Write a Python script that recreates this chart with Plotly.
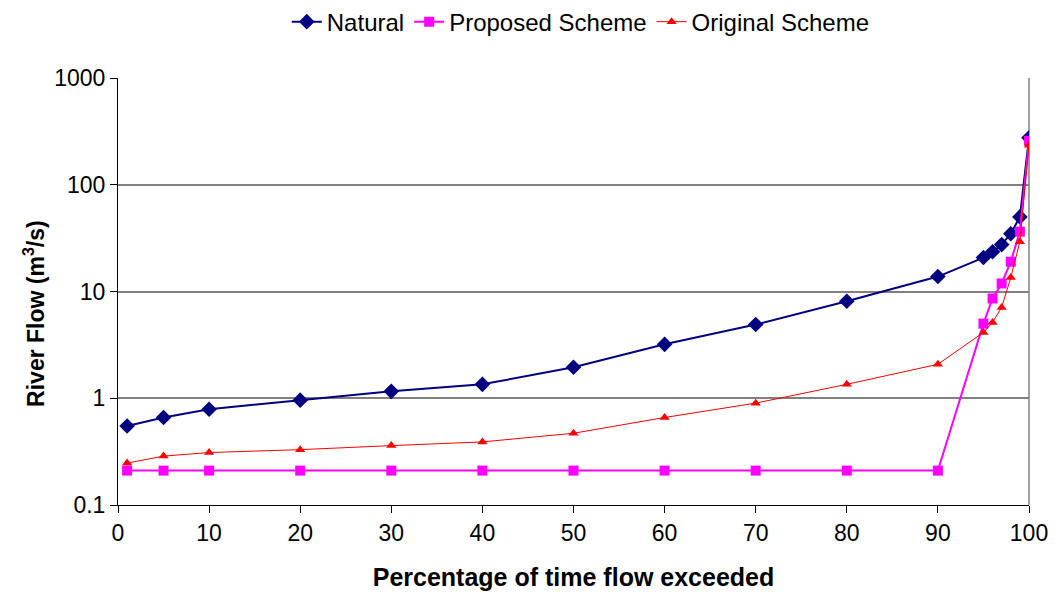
import plotly.graph_objects as go

# Flow duration curve data
pct_exceeded = [1, 5, 10, 20, 30, 40, 50, 60, 70, 80, 90, 95, 96, 97, 98, 99, 100]
natural = [0.55, 0.66, 0.79, 0.96, 1.16, 1.35, 1.95, 3.2, 4.9, 8.1, 13.8, 20.8, 23.6, 27.5, 34.8, 50, 275]
proposed = [0.21, 0.21, 0.21, 0.21, 0.21, 0.21, 0.21, 0.21, 0.21, 0.21, 0.21, 5.0, 8.6, 11.9, 19, 36.4, 258]
original = [0.247, 0.287, 0.31, 0.33, 0.36, 0.39, 0.47, 0.66, 0.9, 1.35, 2.08, 4.14, 5.13, 7.1, 13.5, 29.3, 235]

x_ticks = [0, 10, 20, 30, 40, 50, 60, 70, 80, 90, 100]
y_ticks = [0.1, 1, 10, 100, 1000]
y_tick_labels = ["0.1", "1", "10", "100", "1000"]

FONT = "Liberation Sans, Arial, sans-serif"

fig = go.Figure()
fig.add_trace(go.Scatter(
    x=pct_exceeded, y=natural, name="Natural", mode="lines+markers",
    line=dict(color="#000080", width=2),
    marker=dict(symbol="diamond", size=12, color="#000080"),
))
fig.add_trace(go.Scatter(
    x=pct_exceeded, y=proposed, name="Proposed Scheme", mode="lines+markers",
    line=dict(color="#FF00FF", width=2),
    marker=dict(symbol="square", size=10, color="#FF00FF"),
))
fig.add_trace(go.Scatter(
    x=pct_exceeded, y=original, name="Original Scheme", mode="lines+markers",
    line=dict(color="#FF0000", width=1),
    marker=dict(symbol="triangle-up", size=9, color="#FF0000"),
))

fig.update_layout(
    width=1055, height=592,
    margin=dict(l=118, r=26, t=78, b=87, autoexpand=False),
    paper_bgcolor="white", plot_bgcolor="white",
    font=dict(family=FONT, size=23, color="black"),
    showlegend=True,
    legend=dict(
        orientation="h", x=0.508, xanchor="center", y=1.131, yanchor="middle",
        font=dict(size=24), itemwidth=30, tracegroupgap=0,
        bgcolor="rgba(0,0,0,0)",
    ),
    xaxis=dict(
        range=[0, 100], tickvals=x_ticks, ticks="outside", ticklen=7,
        tickcolor="black", showline=True, linecolor="black", linewidth=1,
        showgrid=False, zeroline=False, tickfont=dict(size=23),
        title=dict(text="<b>Percentage of time flow exceeded</b>",
                   font=dict(size=25), standoff=23),
    ),
    yaxis=dict(
        type="log", range=[-1, 3], tickvals=y_ticks, ticktext=y_tick_labels,
        ticks="outside", ticklen=7, tickcolor="black", tickfont=dict(size=23),
        showline=True, linecolor="black", linewidth=1,
        showgrid=True, gridcolor="#808080", gridwidth=1.5, zeroline=False,
    ),
    annotations=[dict(
        text="<b>River Flow (m<sup>3</sup>/s)</b>", textangle=-90,
        xref="paper", yref="paper", x=-0.092, y=0.448,
        xanchor="center", yanchor="middle", showarrow=False,
        font=dict(size=23),
    )],
)

# Gray frame on the right-hand side of the plot area
fig.add_shape(type="line", xref="paper", yref="paper", x0=1, x1=1, y0=0, y1=1,
              line=dict(color="#808080", width=1.5), layer="below")

fig.write_html("out.html")
